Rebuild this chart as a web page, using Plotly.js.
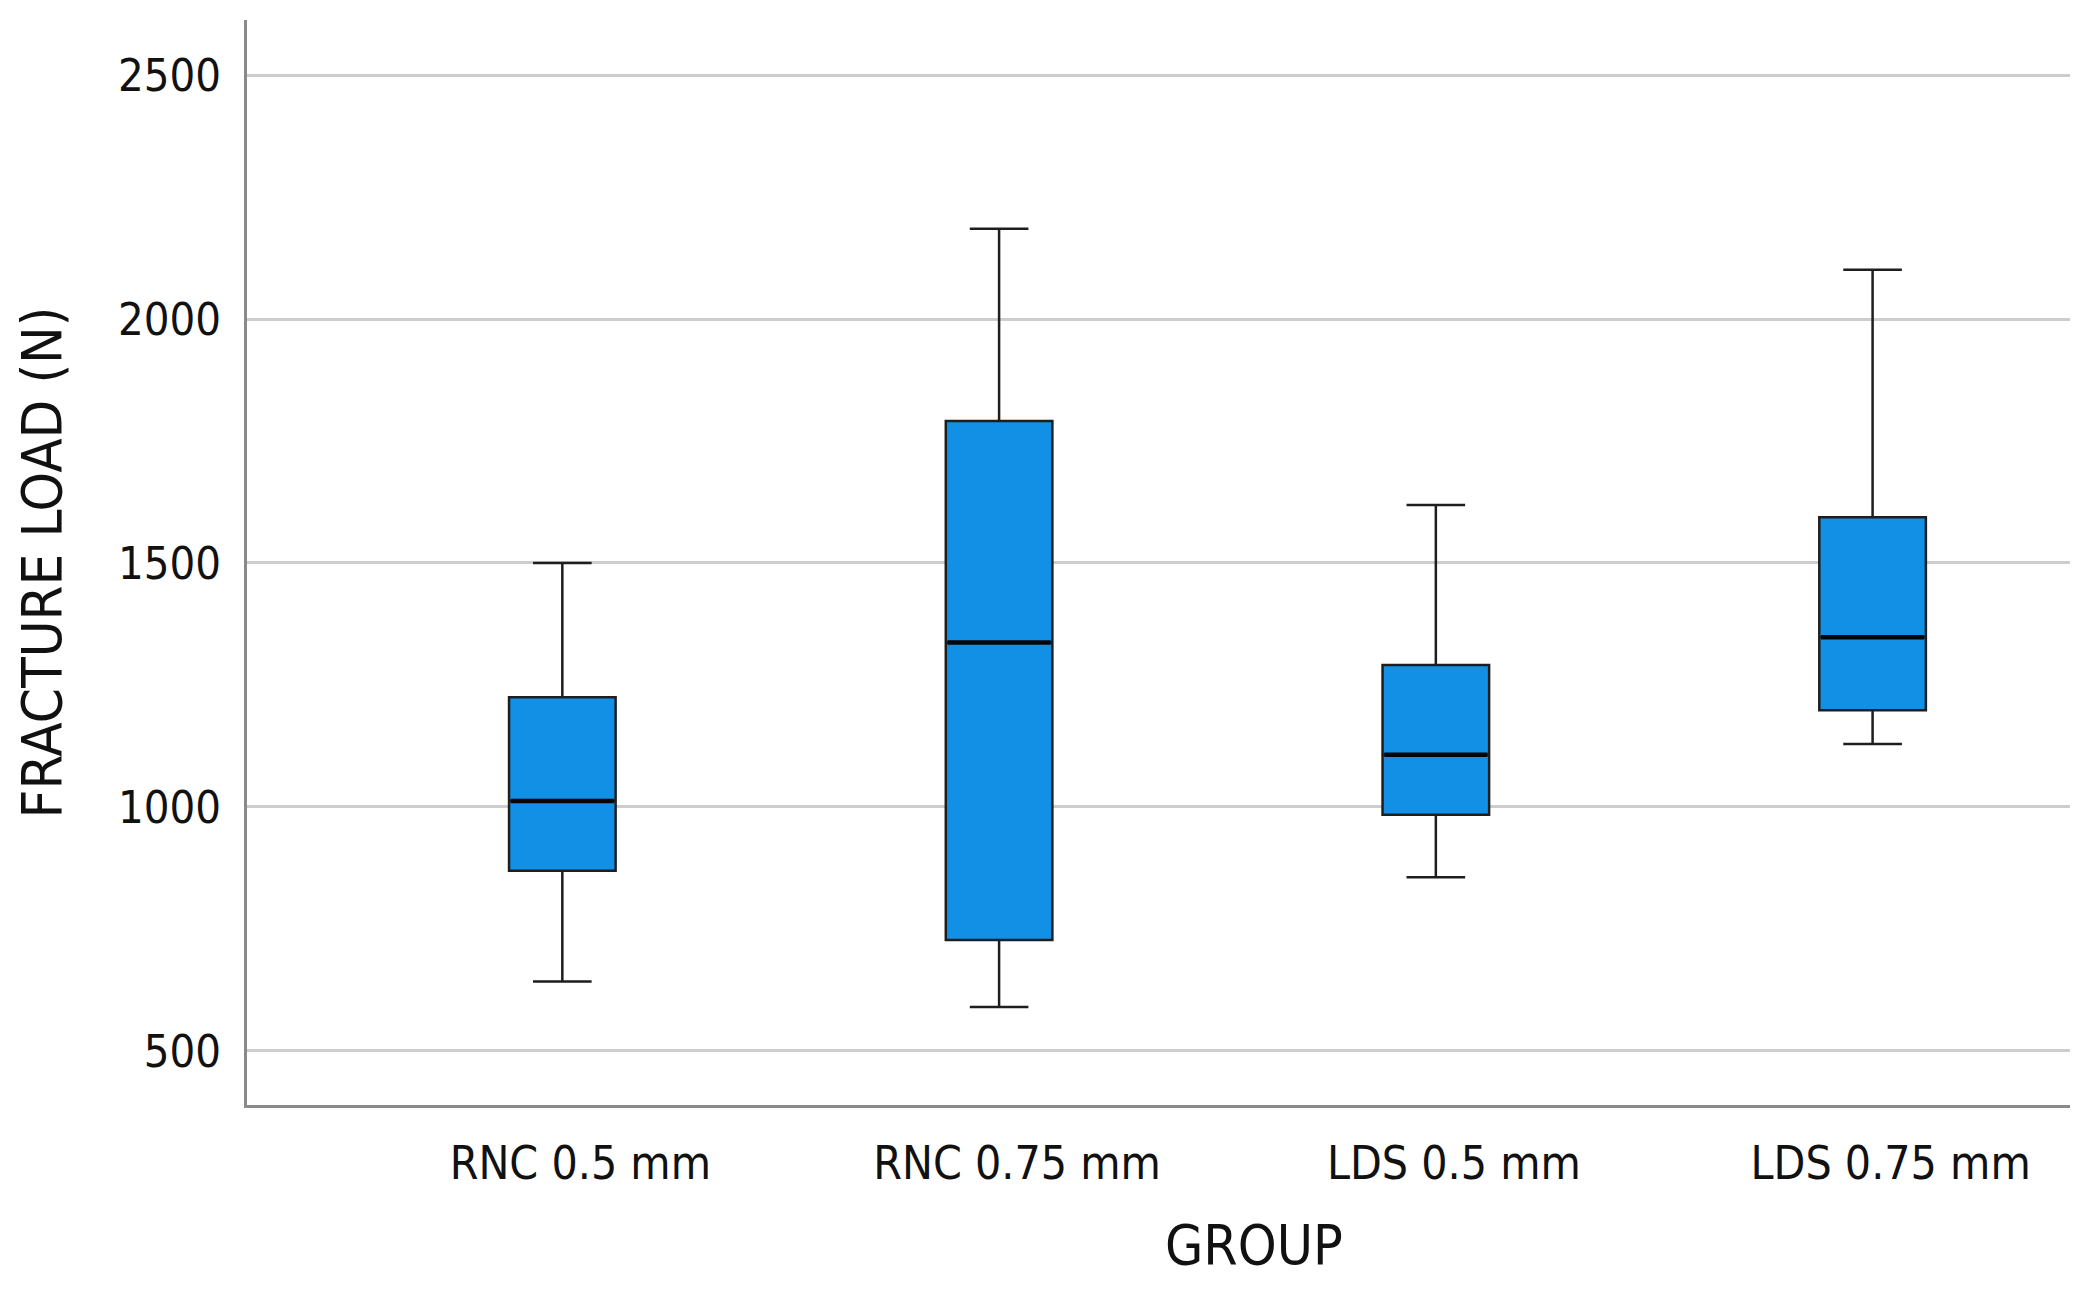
<!DOCTYPE html>
<html>
<head>
<meta charset="utf-8">
<script src="https://cdn.plot.ly/plotly-3.0.1.min.js"></script>
<style>html,body{margin:0;padding:0;background:#fff;}#chart{width:2084px;height:1290px;}</style>
</head>
<body>
<div id="chart"></div>
<script>
const groups = ["RNC 0.5 mm", "RNC 0.75 mm", "LDS 0.5 mm", "LDS 0.75 mm"];
const lowerWhisker = [642, 590, 856, 1129];
const q1Values = [869, 727, 984, 1198];
const medianValues = [1012, 1337, 1107, 1348];
const q3Values = [1225, 1791, 1291, 1594];
const upperWhisker = [1500, 2185, 1619, 2101];
const yTicks = [500, 1000, 1500, 2000, 2500];

const FONT = "DejaVu Sans Condensed, DejaVu Sans, sans-serif";

const boxTrace = {
  type: "box",
  x: groups,
  lowerfence: lowerWhisker,
  q1: q1Values,
  median: medianValues,
  q3: q3Values,
  upperfence: upperWhisker,
  width: 0.244,
  whiskerwidth: 0.55,
  fillcolor: "#1290E6",
  line: {color: "#1e1e1e", width: 2.5},
  boxpoints: false,
  hoverinfo: "skip",
  showlegend: false
};

// thick median bars: degenerate box at the median value
const medianTrace = {
  type: "box",
  x: groups,
  lowerfence: medianValues,
  q1: medianValues,
  median: medianValues,
  q3: medianValues,
  upperfence: medianValues,
  width: 0.236,
  whiskerwidth: 0,
  fillcolor: "rgba(0,0,0,0)",
  line: {color: "#050505", width: 4.5},
  boxpoints: false,
  hoverinfo: "skip",
  showlegend: false
};

const layout = {
  width: 2084,
  height: 1290,
  margin: {l: 247, r: 14, t: 20, b: 185},
  paper_bgcolor: "#ffffff",
  plot_bgcolor: "#ffffff",
  font: {family: FONT, color: "#111111"},
  boxmode: "overlay",
  xaxis: {
    type: "category",
    range: [-0.722, 3.452],
    showgrid: false,
    zeroline: false,
    showline: true,
    linecolor: "#8a8a8a",
    linewidth: 3,
    ticks: "",
    tickfont: {family: FONT, size: 46, color: "#111111"},
    ticklabelstandoff: 16,
    ticklabelshift: 18
  },
  yaxis: {
    range: [389, 2613],
    tickvals: yTicks,
    ticktext: yTicks.map(String),
    showgrid: true,
    gridcolor: "#cdcdcd",
    gridwidth: 3,
    zeroline: false,
    showline: true,
    linecolor: "#8a8a8a",
    linewidth: 3,
    ticks: "",
    tickfont: {family: FONT, size: 45, color: "#111111"},
    ticklabelstandoff: 14,
    title: {text: "FRACTURE LOAD (N)", font: {family: FONT, size: 56, color: "#111111"}, standoff: 39}
  },
  annotations: [{
    text: "GROUP",
    xref: "paper", yref: "paper",
    x: 0.5525, y: -0.129,
    xanchor: "center", yanchor: "middle",
    showarrow: false,
    font: {family: FONT, size: 55, color: "#111111"}
  }]
};

Plotly.newPlot("chart", [boxTrace, medianTrace], layout, {displayModeBar: false, staticPlot: true});
</script>
</body>
</html>
